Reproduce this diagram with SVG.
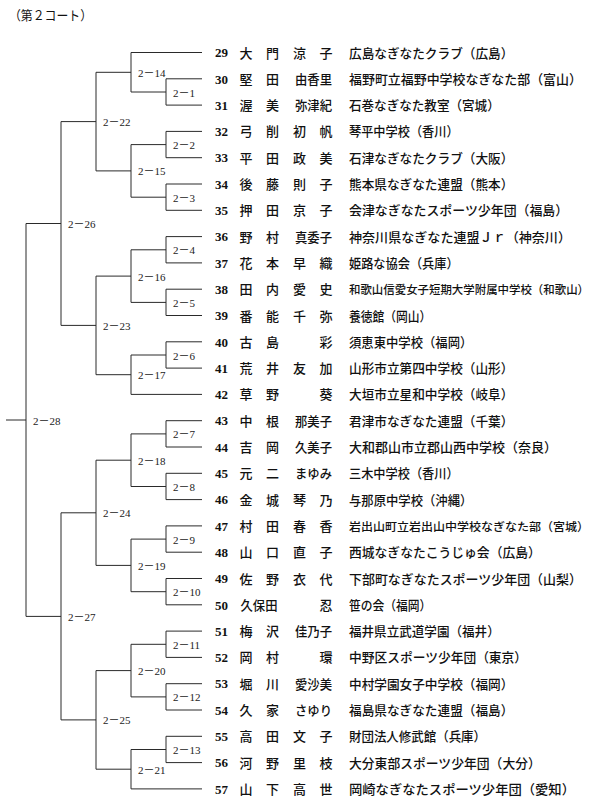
<svg xmlns="http://www.w3.org/2000/svg" width="604" height="803" viewBox="0 0 604 803">
<style>
.bg{fill:#fff}
.ln{fill:none;stroke:#2a2a2a;stroke-width:1}
.lb{font-family:"Liberation Serif","Noto Sans CJK JP",serif;font-size:11px;fill:#222}
.no{font-family:"Liberation Serif","Noto Sans CJK JP",serif;font-size:13px;font-weight:bold;fill:#111}
.nm{font-family:"Noto Sans CJK JP",sans-serif;font-size:13px;font-weight:500;fill:#111;text-anchor:middle}
.af{font-family:"Noto Sans CJK JP",sans-serif;font-size:13px;font-weight:500;fill:#111}
.sm{font-size:11.8px}
.tt{font-family:"Noto Sans CJK JP",sans-serif;font-size:13px;fill:#111}
</style>
<rect class="bg" x="0" y="0" width="604" height="803"/>
<text class="tt" x="9" y="20" textLength="83" lengthAdjust="spacingAndGlyphs">（第２コート）</text>

<g id="connectors">
<path class="ln" d="M202 78.8H166V105.1H202"/>
<path class="ln" d="M202 131.4H166V157.7H202"/>
<path class="ln" d="M202 184H166V210.3H202"/>
<path class="ln" d="M202 236.6H166V262.9H202"/>
<path class="ln" d="M202 289.2H166V315.5H202"/>
<path class="ln" d="M202 341.8H166V368.1H202"/>
<path class="ln" d="M202 420.7H166V447H202"/>
<path class="ln" d="M202 473.3H166V499.6H202"/>
<path class="ln" d="M202 525.9H166V552.2H202"/>
<path class="ln" d="M202 578.5H166V604.8H202"/>
<path class="ln" d="M202 631.1H166V657.4H202"/>
<path class="ln" d="M202 683.7H166V710H202"/>
<path class="ln" d="M202 736.3H166V762.6H202"/>
<path class="ln" d="M202 52.5H131V92H166"/>
<path class="ln" d="M166 144.6H131V197.2H166"/>
<path class="ln" d="M166 249.8H131V302.4H166"/>
<path class="ln" d="M166 355H131V394.4H202"/>
<path class="ln" d="M166 433.9H131V486.5H166"/>
<path class="ln" d="M166 539.1H131V591.7H166"/>
<path class="ln" d="M166 644.3H131V696.9H166"/>
<path class="ln" d="M166 749.5H131V788.9H202"/>
<path class="ln" d="M131 72.3H96V170.9H131"/>
<path class="ln" d="M131 276.1H96V374.7H131"/>
<path class="ln" d="M131 460.2H96V565.4H131"/>
<path class="ln" d="M131 670.6H96V769.2H131"/>
<path class="ln" d="M96 121.6H61V325.4H96"/>
<path class="ln" d="M96 512.8H61V719.9H96"/>
<path class="ln" d="M61 223.5H26V616.4H61"/>
<path class="ln" d="M6 420H26"/>
</g>

<g id="match-labels">
<text class="lb" x="173" y="96.5">2－1</text>
<text class="lb" x="173" y="149.1">2－2</text>
<text class="lb" x="173" y="201.7">2－3</text>
<text class="lb" x="173" y="254.3">2－4</text>
<text class="lb" x="173" y="306.9">2－5</text>
<text class="lb" x="173" y="359.5">2－6</text>
<text class="lb" x="173" y="438.4">2－7</text>
<text class="lb" x="173" y="491">2－8</text>
<text class="lb" x="173" y="543.6">2－9</text>
<text class="lb" x="173" y="596.2">2－10</text>
<text class="lb" x="173" y="648.8">2－11</text>
<text class="lb" x="173" y="701.4">2－12</text>
<text class="lb" x="173" y="754">2－13</text>
<text class="lb" x="138" y="76.8">2－14</text>
<text class="lb" x="138" y="175.4">2－15</text>
<text class="lb" x="138" y="280.6">2－16</text>
<text class="lb" x="138" y="379.2">2－17</text>
<text class="lb" x="138" y="464.7">2－18</text>
<text class="lb" x="138" y="569.9">2－19</text>
<text class="lb" x="138" y="675.1">2－20</text>
<text class="lb" x="138" y="773.7">2－21</text>
<text class="lb" x="103" y="126.1">2－22</text>
<text class="lb" x="103" y="329.9">2－23</text>
<text class="lb" x="103" y="517.3">2－24</text>
<text class="lb" x="103" y="724.4">2－25</text>
<text class="lb" x="68" y="228">2－26</text>
<text class="lb" x="68" y="620.9">2－27</text>
<text class="lb" x="33" y="424.5">2－28</text>
</g>

<g id="p29"><text class="no" x="215" y="57.2">29</text><text class="nm" x="246" y="57.5">大</text><text class="nm" x="272.5" y="57.5">門</text><text class="nm" x="299.5" y="57.5">涼</text><text class="nm" x="326" y="57.5">子</text><text class="af" x="349" y="57.5" textLength="164.4" lengthAdjust="spacingAndGlyphs">広島なぎなたクラブ（広島）</text></g>
<g id="p30"><text class="no" x="215" y="83.5">30</text><text class="nm" x="246" y="83.8">堅</text><text class="nm" x="272.5" y="83.8">田</text><text class="nm" x="313.5" y="83.8" textLength="37" lengthAdjust="spacingAndGlyphs">由香里</text><text class="af" x="349" y="83.8" textLength="232.9" lengthAdjust="spacingAndGlyphs">福野町立福野中学校なぎなた部（富山）</text></g>
<g id="p31"><text class="no" x="215" y="109.8">31</text><text class="nm" x="246" y="110.1">渥</text><text class="nm" x="272.5" y="110.1">美</text><text class="nm" x="313.5" y="110.1" textLength="37" lengthAdjust="spacingAndGlyphs">弥津紀</text><text class="af" x="349" y="110.1" textLength="150.7" lengthAdjust="spacingAndGlyphs">石巻なぎなた教室（宮城）</text></g>
<g id="p32"><text class="no" x="215" y="136.1">32</text><text class="nm" x="246" y="136.4">弓</text><text class="nm" x="272.5" y="136.4">削</text><text class="nm" x="299.5" y="136.4">初</text><text class="nm" x="326" y="136.4">帆</text><text class="af" x="349" y="136.4" textLength="109.6" lengthAdjust="spacingAndGlyphs">琴平中学校（香川）</text></g>
<g id="p33"><text class="no" x="215" y="162.4">33</text><text class="nm" x="246" y="162.7">平</text><text class="nm" x="272.5" y="162.7">田</text><text class="nm" x="299.5" y="162.7">政</text><text class="nm" x="326" y="162.7">美</text><text class="af" x="349" y="162.7" textLength="164.4" lengthAdjust="spacingAndGlyphs">石津なぎなたクラブ（大阪）</text></g>
<g id="p34"><text class="no" x="215" y="188.7">34</text><text class="nm" x="246" y="189">後</text><text class="nm" x="272.5" y="189">藤</text><text class="nm" x="299.5" y="189">則</text><text class="nm" x="326" y="189">子</text><text class="af" x="349" y="189" textLength="164.4" lengthAdjust="spacingAndGlyphs">熊本県なぎなた連盟（熊本）</text></g>
<g id="p35"><text class="no" x="215" y="215">35</text><text class="nm" x="246" y="215.3">押</text><text class="nm" x="272.5" y="215.3">田</text><text class="nm" x="299.5" y="215.3">京</text><text class="nm" x="326" y="215.3">子</text><text class="af" x="349" y="215.3" textLength="219.2" lengthAdjust="spacingAndGlyphs">会津なぎなたスポーツ少年団（福島）</text></g>
<g id="p36"><text class="no" x="215" y="241.3">36</text><text class="nm" x="246" y="241.6">野</text><text class="nm" x="272.5" y="241.6">村</text><text class="nm" x="313.5" y="241.6" textLength="37" lengthAdjust="spacingAndGlyphs">真委子</text><text class="af" x="349" y="241.6" textLength="222" lengthAdjust="spacingAndGlyphs">神奈川県なぎなた連盟Ｊｒ（神奈川）</text></g>
<g id="p37"><text class="no" x="215" y="267.6">37</text><text class="nm" x="246" y="267.9">花</text><text class="nm" x="272.5" y="267.9">本</text><text class="nm" x="299.5" y="267.9">早</text><text class="nm" x="326" y="267.9">織</text><text class="af" x="349" y="267.9" textLength="109.6" lengthAdjust="spacingAndGlyphs">姫路な協会（兵庫）</text></g>
<g id="p38"><text class="no" x="215" y="293.9">38</text><text class="nm" x="246" y="294.2">田</text><text class="nm" x="272.5" y="294.2">内</text><text class="nm" x="299.5" y="294.2">愛</text><text class="nm" x="326" y="294.2">史</text><text class="af sm" x="349" y="294.2" textLength="240" lengthAdjust="spacingAndGlyphs">和歌山信愛女子短期大学附属中学校（和歌山）</text></g>
<g id="p39"><text class="no" x="215" y="320.2">39</text><text class="nm" x="246" y="320.5">番</text><text class="nm" x="272.5" y="320.5">能</text><text class="nm" x="299.5" y="320.5">千</text><text class="nm" x="326" y="320.5">弥</text><text class="af" x="349" y="320.5" textLength="82.2" lengthAdjust="spacingAndGlyphs">養徳館（岡山）</text></g>
<g id="p40"><text class="no" x="215" y="346.5">40</text><text class="nm" x="246" y="346.8">古</text><text class="nm" x="272.5" y="346.8">島</text><text class="nm" x="326" y="346.8">彩</text><text class="af" x="349" y="346.8" textLength="123.3" lengthAdjust="spacingAndGlyphs">須恵東中学校（福岡）</text></g>
<g id="p41"><text class="no" x="215" y="372.8">41</text><text class="nm" x="246" y="373.1">荒</text><text class="nm" x="272.5" y="373.1">井</text><text class="nm" x="299.5" y="373.1">友</text><text class="nm" x="326" y="373.1">加</text><text class="af" x="349" y="373.1" textLength="164.4" lengthAdjust="spacingAndGlyphs">山形市立第四中学校（山形）</text></g>
<g id="p42"><text class="no" x="215" y="399.1">42</text><text class="nm" x="246" y="399.4">草</text><text class="nm" x="272.5" y="399.4">野</text><text class="nm" x="326" y="399.4">葵</text><text class="af" x="349" y="399.4" textLength="164.4" lengthAdjust="spacingAndGlyphs">大垣市立星和中学校（岐阜）</text></g>
<g id="p43"><text class="no" x="215" y="425.4">43</text><text class="nm" x="246" y="425.7">中</text><text class="nm" x="272.5" y="425.7">根</text><text class="nm" x="313.5" y="425.7" textLength="37" lengthAdjust="spacingAndGlyphs">那美子</text><text class="af" x="349" y="425.7" textLength="164.4" lengthAdjust="spacingAndGlyphs">君津市なぎなた連盟（千葉）</text></g>
<g id="p44"><text class="no" x="215" y="451.7">44</text><text class="nm" x="246" y="452">吉</text><text class="nm" x="272.5" y="452">岡</text><text class="nm" x="313.5" y="452" textLength="37" lengthAdjust="spacingAndGlyphs">久美子</text><text class="af" x="349" y="452" textLength="208" lengthAdjust="spacingAndGlyphs">大和郡山市立郡山西中学校（奈良）</text></g>
<g id="p45"><text class="no" x="215" y="478">45</text><text class="nm" x="246" y="478.3">元</text><text class="nm" x="272.5" y="478.3">二</text><text class="nm" x="313.5" y="478.3" textLength="37" lengthAdjust="spacingAndGlyphs">まゆみ</text><text class="af" x="349" y="478.3" textLength="109.6" lengthAdjust="spacingAndGlyphs">三木中学校（香川）</text></g>
<g id="p46"><text class="no" x="215" y="504.3">46</text><text class="nm" x="246" y="504.6">金</text><text class="nm" x="272.5" y="504.6">城</text><text class="nm" x="299.5" y="504.6">琴</text><text class="nm" x="326" y="504.6">乃</text><text class="af" x="349" y="504.6" textLength="123.3" lengthAdjust="spacingAndGlyphs">与那原中学校（沖縄）</text></g>
<g id="p47"><text class="no" x="215" y="530.6">47</text><text class="nm" x="246" y="530.9">村</text><text class="nm" x="272.5" y="530.9">田</text><text class="nm" x="299.5" y="530.9">春</text><text class="nm" x="326" y="530.9">香</text><text class="af sm" x="349" y="530.9" textLength="240" lengthAdjust="spacingAndGlyphs">岩出山町立岩出山中学校なぎなた部（宮城）</text></g>
<g id="p48"><text class="no" x="215" y="556.9">48</text><text class="nm" x="246" y="557.2">山</text><text class="nm" x="272.5" y="557.2">口</text><text class="nm" x="299.5" y="557.2">直</text><text class="nm" x="326" y="557.2">子</text><text class="af" x="349" y="557.2" textLength="191.8" lengthAdjust="spacingAndGlyphs">西城なぎなたこうじゅ会（広島）</text></g>
<g id="p49"><text class="no" x="215" y="583.2">49</text><text class="nm" x="246" y="583.5">佐</text><text class="nm" x="272.5" y="583.5">野</text><text class="nm" x="299.5" y="583.5">衣</text><text class="nm" x="326" y="583.5">代</text><text class="af" x="349" y="583.5" textLength="232.9" lengthAdjust="spacingAndGlyphs">下部町なぎなたスポーツ少年団（山梨）</text></g>
<g id="p50"><text class="no" x="215" y="609.5">50</text><text class="nm" x="259" y="609.8" textLength="37" lengthAdjust="spacingAndGlyphs">久保田</text><text class="nm" x="326" y="609.8">忍</text><text class="af" x="349" y="609.8" textLength="82.2" lengthAdjust="spacingAndGlyphs">笹の会（福岡）</text></g>
<g id="p51"><text class="no" x="215" y="635.8">51</text><text class="nm" x="246" y="636.1">梅</text><text class="nm" x="272.5" y="636.1">沢</text><text class="nm" x="313.5" y="636.1" textLength="37" lengthAdjust="spacingAndGlyphs">佳乃子</text><text class="af" x="349" y="636.1" textLength="150.7" lengthAdjust="spacingAndGlyphs">福井県立武道学園（福井）</text></g>
<g id="p52"><text class="no" x="215" y="662.1">52</text><text class="nm" x="246" y="662.4">岡</text><text class="nm" x="272.5" y="662.4">村</text><text class="nm" x="326" y="662.4">環</text><text class="af" x="349" y="662.4" textLength="178.1" lengthAdjust="spacingAndGlyphs">中野区スポーツ少年団（東京）</text></g>
<g id="p53"><text class="no" x="215" y="688.4">53</text><text class="nm" x="246" y="688.7">堀</text><text class="nm" x="272.5" y="688.7">川</text><text class="nm" x="313.5" y="688.7" textLength="37" lengthAdjust="spacingAndGlyphs">愛沙美</text><text class="af" x="349" y="688.7" textLength="164.4" lengthAdjust="spacingAndGlyphs">中村学園女子中学校（福岡）</text></g>
<g id="p54"><text class="no" x="215" y="714.7">54</text><text class="nm" x="246" y="715">久</text><text class="nm" x="272.5" y="715">家</text><text class="nm" x="313.5" y="715" textLength="37" lengthAdjust="spacingAndGlyphs">さゆり</text><text class="af" x="349" y="715" textLength="164.4" lengthAdjust="spacingAndGlyphs">福島県なぎなた連盟（福島）</text></g>
<g id="p55"><text class="no" x="215" y="741">55</text><text class="nm" x="246" y="741.3">高</text><text class="nm" x="272.5" y="741.3">田</text><text class="nm" x="299.5" y="741.3">文</text><text class="nm" x="326" y="741.3">子</text><text class="af" x="349" y="741.3" textLength="137" lengthAdjust="spacingAndGlyphs">財団法人修武館（兵庫）</text></g>
<g id="p56"><text class="no" x="215" y="767.3">56</text><text class="nm" x="246" y="767.6">河</text><text class="nm" x="272.5" y="767.6">野</text><text class="nm" x="299.5" y="767.6">里</text><text class="nm" x="326" y="767.6">枝</text><text class="af" x="349" y="767.6" textLength="191.8" lengthAdjust="spacingAndGlyphs">大分東部スポーツ少年団（大分）</text></g>
<g id="p57"><text class="no" x="215" y="793.6">57</text><text class="nm" x="246" y="793.9">山</text><text class="nm" x="272.5" y="793.9">下</text><text class="nm" x="299.5" y="793.9">高</text><text class="nm" x="326" y="793.9">世</text><text class="af" x="349" y="793.9" textLength="226" lengthAdjust="spacingAndGlyphs">岡崎なぎなたスポーツ少年団（愛知）</text></g>
</svg>
